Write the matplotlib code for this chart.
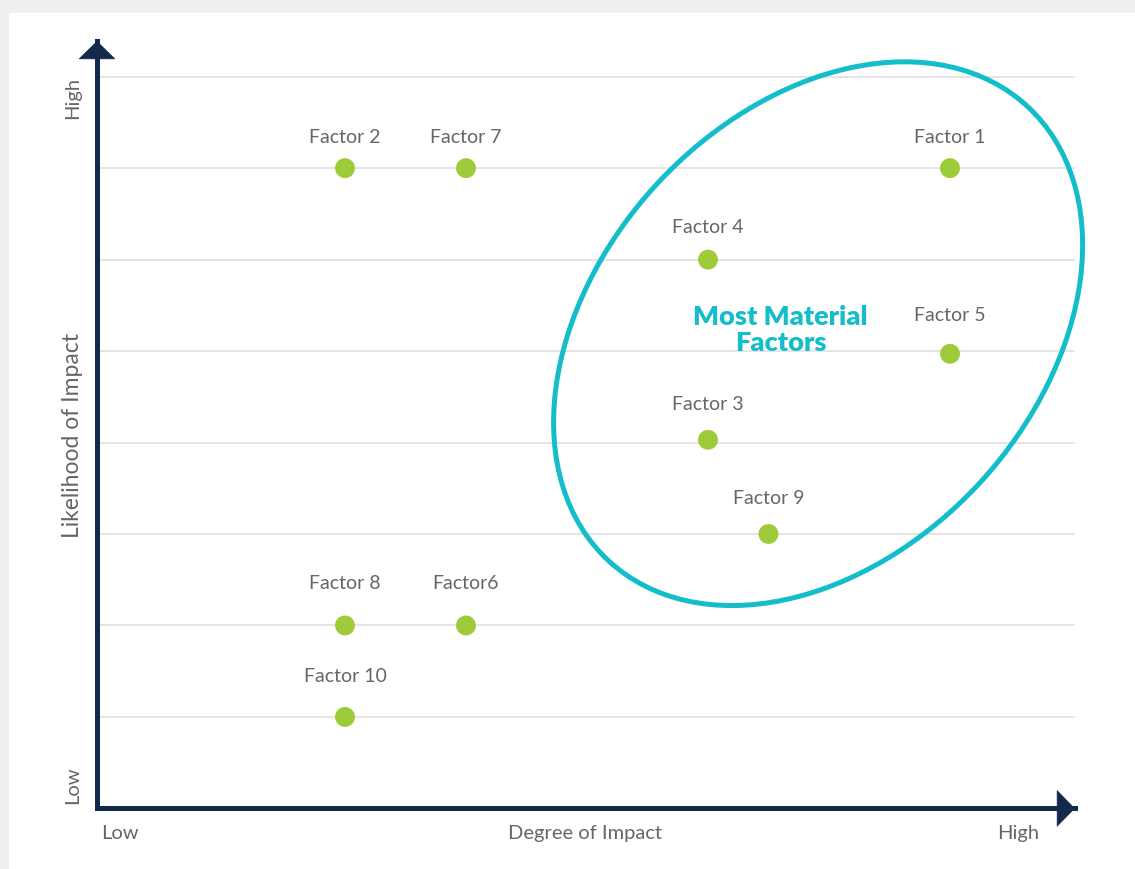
import numpy as np
import matplotlib.pyplot as plt
from matplotlib.patches import Ellipse, Rectangle
from matplotlib.transforms import ScaledTranslation

# factor positions: degree of impact (x), likelihood of impact (y)
factors = ['Factor 1', 'Factor 2', 'Factor 3', 'Factor 4', 'Factor 5',
           'Factor6', 'Factor 7', 'Factor 8', 'Factor 9', 'Factor 10']
degree = [7.0, 2.0, 5.0, 5.0, 7.0, 3.0, 3.0, 2.0, 5.5, 2.0]
likelihood = [7.0, 7.0, 4.03, 6.0, 4.97, 2.0, 7.0, 2.0, 3.0, 1.0]
grid_levels = [1, 2, 3, 4, 5, 6, 7, 8]

# label offsets above the dot (points)
label_dy = [23, 23, 26, 24, 28, 31, 23, 31, 26, 30]

navy = '#12294b'
teal = '#14bdca'
green = '#9dcb3a'
grey = '#666666'

plt.rcParams['font.family'] = ['Lato', 'DejaVu Sans']

fig = plt.figure(figsize=(11.35, 8.70), dpi=100, facecolor='#efefef')
fig.patches.append(Rectangle((9 / 1135, 0), 1, 1 - 14 / 870, transform=fig.transFigure,
                             facecolor='white', edgecolor='none', zorder=-5))

ax = fig.add_axes([0.08546, 0.06966, 0.86167, 0.88207])
ax.set_facecolor('none')
ax.set_xlim(-0.0496, 8.033)
ax.set_ylim(0, 8.39)

for lv in grid_levels:
    ax.axhline(lv, xmin=0.003, xmax=1, color='#e2e2e2', lw=1.3, zorder=1)

ax.scatter(degree, likelihood, s=205, color=green, edgecolors='none', zorder=3)
for name, x, y, dy in zip(factors, degree, likelihood, label_dy):
    ax.annotate(name, (x, y), xytext=(0, dy), textcoords='offset points',
                ha='center', va='center', fontsize=14, color=grey)

# the "most material" ellipse, sized in inches around a data centre
ell = Ellipse((0, 0), 6.18, 4.40, angle=47.4, facecolor='none', edgecolor=teal, lw=3.6,
              transform=fig.dpi_scale_trans + ScaledTranslation(5.91, 5.19, ax.transData),
              zorder=2, clip_on=False)
ax.add_patch(ell)
ax.text(5.60, 5.24, 'Most Material\nFactors', ha='center', va='center', fontsize=19.5,
        fontweight='heavy', color=teal, linespacing=1.1)

# axes with arrow heads
for side in ['top', 'right']:
    ax.spines[side].set_visible(False)
for side in ['left', 'bottom']:
    ax.spines[side].set_color(navy)
    ax.spines[side].set_linewidth(3.6)
    ax.spines[side].set_capstyle('projecting')
ax.set_xticks([])
ax.set_yticks([])
style = '-|>,head_length=12.5,head_width=12.8'
for tip, tail in [((0, 1), (0, 0.9)), ((1, 0), (0.9, 0))]:
    ax.annotate('', xy=tip, xytext=tail, xycoords='axes fraction',
                arrowprops=dict(arrowstyle=style, mutation_scale=1, lw=0.5, color=navy,
                                shrinkA=0, shrinkB=0), annotation_clip=False)

fig.text(0.1057, 0.0425, 'Low', ha='center', va='center', fontsize=14.5, color=grey)
fig.text(0.5154, 0.0425, 'Degree of Impact', ha='center', va='center', fontsize=14.5, color=grey)
fig.text(0.897, 0.0425, 'High', ha='center', va='center', fontsize=14.5, color=grey)
fig.text(0.0643, 0.8874, 'High', ha='center', va='center', fontsize=14.5, color=grey, rotation=90)
fig.text(0.0643, 0.0977, 'Low', ha='center', va='center', fontsize=14.5, color=grey, rotation=90)
fig.text(0.0643, 0.4989, 'Likelihood of Impact', ha='center', va='center', fontsize=16.5,
         color=grey, rotation=90)

fig.savefig('out.png', dpi=100, facecolor=fig.get_facecolor())
